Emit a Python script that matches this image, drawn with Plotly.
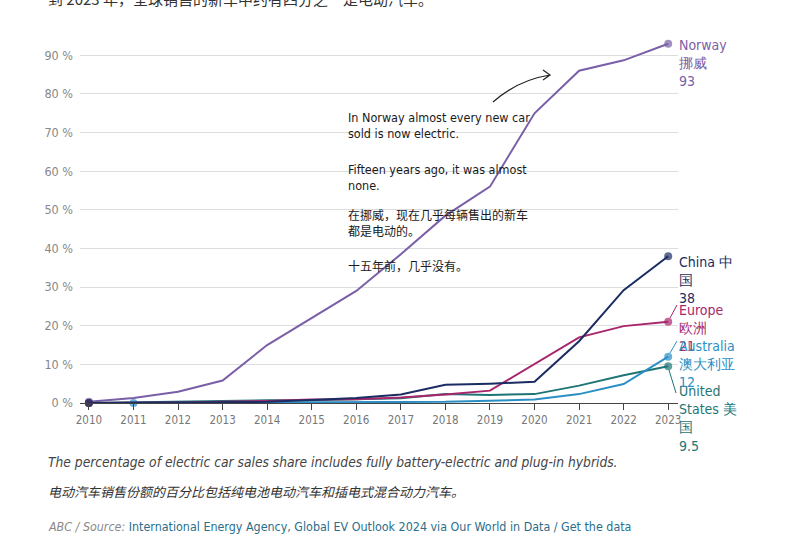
import plotly.graph_objects as go

years = list(range(2010, 2024))
norway = [0.3, 1.3, 2.9, 5.8, 15, 22, 29, 38.5, 48.5, 56, 75, 86, 88.7, 93]
china = [0.01, 0.04, 0.07, 0.08, 0.3, 0.8, 1.3, 2.2, 4.7, 5.0, 5.5, 16, 29.2, 38]
europe = [0.0, 0.01, 0.1, 0.3, 0.5, 0.9, 1.0, 1.4, 2.2, 3.2, 10, 17, 19.9, 21]
us = [0.0, 0.2, 0.4, 0.6, 0.7, 0.7, 0.9, 1.2, 2.3, 2.1, 2.3, 4.5, 7.2, 9.5]
aus_years = list(range(2011, 2024))
australia = [0.0, 0.03, 0.03, 0.1, 0.2, 0.2, 0.2, 0.3, 0.6, 0.9, 2.3, 4.9, 12]

end_labels = {
    "Norway": "Norway<br>挪威<br>93",
    "China": "China 中<br>国<br>38",
    "Europe": "Europe<br>欧洲<br>21",
    "Australia": "Australia<br>澳大利亚<br>12",
    "US": "United<br>States 美<br>国<br>9.5",
}
y_ticks = list(range(0, 100, 10))

colors = {
    "Norway": "#7a5fa8",
    "China": "#1b2c62",
    "Europe": "#a8266c",
    "Australia": "#2b8fc4",
    "US": "#1e7576",
}

FONT = "DejaVu Sans Condensed, Roboto, sans-serif"
CJK = "Noto Sans CJK SC, sans-serif"

W, H = 790, 549
L, R, T, B = 80, 112, 36, 146
PW = W - L - R
PH = H - T - B


def px(x):
    return (x - L) / PW


def py(y):
    return (H - B - y) / PH


series = [
    ("Norway", years, norway),
    ("US", years, us),
    ("Australia", aus_years, australia),
    ("Europe", years, europe),
    ("China", years, china),
]

fig = go.Figure()
for name, xs, ys in series:
    n = len(xs)
    sizes = [8 if i in (0, n - 1) else 0 for i in range(n)]
    fig.add_trace(go.Scatter(
        x=xs, y=ys, mode="lines+markers", name=name,
        line=dict(color=colors[name], width=2),
        marker=dict(size=sizes, color=colors[name], line=dict(width=0)),
        cliponaxis=False, showlegend=False, hoverinfo="skip",
    ))

anns = []
label_pos = {
    "Norway": 35, "China": 252, "Europe": 300, "Australia": 336, "US": 381,
}
for name, top in label_pos.items():
    anns.append(dict(
        xref="paper", yref="paper", x=px(677), y=py(top),
        xanchor="left", yanchor="top", align="left", showarrow=False,
        text=end_labels[name],
        font=dict(family=FONT, size=14, color=colors[name]),
    ))

# story annotations
story = [
    (108, "In Norway almost every new car<br>sold is now electric.", FONT, 12.5),
    (160, "Fifteen years ago, it was almost<br>none.", FONT, 12.5),
    (204, "在挪威，现在几乎每辆售出的新车<br>都是电动的。", CJK, 12),
    (255, "十五年前，几乎没有。", CJK, 12),
]
for top, txt, fam, sz in story:
    anns.append(dict(
        xref="paper", yref="paper", x=px(346), y=py(top),
        xanchor="left", yanchor="top", align="left", showarrow=False,
        text=txt, font=dict(family=fam, size=sz, color="#1a1a1a"),
    ))

# header (cut off at top)
anns.append(dict(
    xref="paper", yref="paper", x=px(46), y=py(-1),
    xanchor="left", yanchor="middle", showarrow=False,
    text="到 2023 年，全球销售的新车中约有四分之一是电动汽车。",
    font=dict(family=CJK, size=15, color="#333333"),
))

# footer
anns.append(dict(
    xref="paper", yref="paper", x=px(46), y=py(462),
    xanchor="left", yanchor="middle", showarrow=False,
    text="<i>The percentage of electric car sales share includes fully battery-electric and plug-in hybrids.</i>",
    font=dict(family=FONT, size=13.7, color="#444444"),
))
anns.append(dict(
    xref="paper", yref="paper", x=px(46), y=py(492),
    xanchor="left", yanchor="middle", showarrow=False,
    text="<i>电动汽车销售份额的百分比包括纯电池电动汽车和插电式混合动力汽车。</i>",
    font=dict(family=CJK, size=13, color="#333333"),
))
anns.append(dict(
    xref="paper", yref="paper", x=px(46), y=py(526),
    xanchor="left", yanchor="middle", showarrow=False,
    text="<i><span style='color:#8a8a8a'>ABC / Source: </span></i>"
         "<span style='color:#2a6e8c'>International Energy Agency, Global EV Outlook 2024 via Our World in Data / Get the data</span>",
    font=dict(family=FONT, size=12.4, color="#2a6e8c"),
))

shapes = []
# curved arrow
shapes.append(dict(
    type="path", xref="paper", yref="paper",
    path=f"M{px(493)},{py(102)} Q{px(518)},{py(80)} {px(550)},{py(75)} "
         f"M{px(543)},{py(70)} L{px(550)},{py(75)} L{px(543)},{py(80)}",
    line=dict(color="#222222", width=1.2),
))
# leader lines
leaders = [
    ("Europe", 670, 318, 677, 305),
    ("Australia", 670, 353, 677, 341),
    ("US", 669, 370, 676, 393),
]
for name, x0, y0, x1, y1 in leaders:
    shapes.append(dict(
        type="line", xref="paper", yref="paper",
        x0=px(x0), y0=py(y0), x1=px(x1), y1=py(y1),
        line=dict(color=colors[name], width=1),
    ))

fig.update_layout(
    width=W, height=H,
    margin=dict(l=L, r=R, t=T, b=B, autoexpand=False),
    paper_bgcolor="white", plot_bgcolor="white",
    font=dict(family=FONT),
    annotations=anns, shapes=shapes,
    xaxis=dict(
        range=[2009.8, 2023.22], tickmode="array", tickvals=years,
        ticktext=[str(y) for y in years],
        showgrid=False, zeroline=False,
        showline=True, linecolor="#444444", linewidth=1,
        ticks="outside", ticklen=6, tickcolor="#444444",
        tickfont=dict(family=FONT, size=11.5, color="#777777"),
    ),
    yaxis=dict(
        range=[0, 95], tickmode="array", tickvals=y_ticks,
        ticktext=[f"{v} %" for v in y_ticks],
        showgrid=True, gridcolor="#dddddd", gridwidth=1,
        zeroline=False, showline=False, ticks="",
        ticklabelstandoff=6,
        tickfont=dict(family=FONT, size=12.5, color="#888888"),
    ),
)

fig.write_html(
    "out.html",
    config={"displayModeBar": False},
    post_script="document.body.style.margin='0';document.body.style.overflow='hidden';",
)
